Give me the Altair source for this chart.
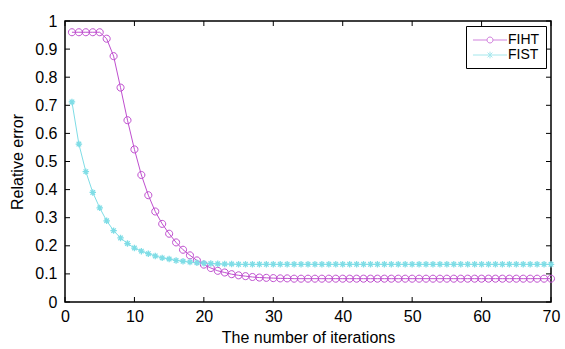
import altair as alt
import pandas as pd

iterations = list(range(1, 71))

fiht = [0.960, 0.960, 0.960, 0.960, 0.960, 0.937, 0.875, 0.763, 0.647, 0.543,
        0.452, 0.380, 0.322, 0.278, 0.243, 0.212, 0.186, 0.166, 0.148, 0.133,
        0.121, 0.111, 0.105, 0.099, 0.095, 0.092, 0.089, 0.087, 0.086, 0.085,
        0.084, 0.084, 0.083, 0.083, 0.083, 0.083, 0.083, 0.083, 0.083, 0.083,
        0.083, 0.083, 0.083, 0.083, 0.083, 0.083, 0.083, 0.083, 0.083, 0.083,
        0.083, 0.083, 0.083, 0.083, 0.083, 0.083, 0.083, 0.083, 0.083, 0.083,
        0.083, 0.083, 0.083, 0.083, 0.083, 0.083, 0.083, 0.083, 0.083, 0.083]

fist = [0.712, 0.562, 0.464, 0.390, 0.335, 0.289, 0.254, 0.228, 0.208, 0.192,
        0.181, 0.172, 0.164, 0.157, 0.153, 0.148, 0.145, 0.142, 0.140, 0.138,
        0.137, 0.136, 0.135, 0.135, 0.134, 0.134, 0.134, 0.134, 0.134, 0.134,
        0.134, 0.134, 0.134, 0.134, 0.134, 0.134, 0.134, 0.134, 0.134, 0.134,
        0.134, 0.134, 0.134, 0.134, 0.134, 0.134, 0.134, 0.134, 0.134, 0.134,
        0.134, 0.134, 0.134, 0.134, 0.134, 0.134, 0.134, 0.134, 0.134, 0.134,
        0.134, 0.134, 0.134, 0.134, 0.134, 0.134, 0.134, 0.134, 0.134, 0.134]

series_names = ["FIHT", "FIST"]
series_colors = ["#bf4fcf", "#7fdde6"]

x_ticks = [0, 10, 20, 30, 40, 50, 60, 70]
y_ticks = [0, 0.1, 0.2, 0.3, 0.4, 0.5, 0.6, 0.7, 0.8, 0.9, 1]

W, H = 486, 281
FONT = "Liberation Sans"

circle_path = "M1,0A1,1,0,1,1,-1,0A1,1,0,1,1,1,0Z"
star_path = ("M-1,0L1,0M0,-1L0,1M-0.7,-0.7L0.7,0.7M-0.7,0.7L0.7,-0.7")
legend_circle = ("M-2.27,0L-0.4,0M0.4,0L2.27,0"
                 "M0.4,0A0.4,0.4,0,1,1,-0.4,0A0.4,0.4,0,1,1,0.4,0")
legend_star = ("M-2.27,0L2.27,0M0,-0.45L0,0.45M-0.32,-0.32L0.32,0.32"
               "M-0.32,0.32L0.32,-0.32")

df_fiht = pd.DataFrame({"x": iterations, "y": fiht})
df_fist = pd.DataFrame({"x": iterations, "y": fist})
df_leg = pd.DataFrame({"series": series_names})
df_xt = pd.DataFrame({"x": x_ticks})
df_yt = pd.DataFrame({"y": y_ticks})

xscale = alt.Scale(domain=[0, 70], nice=False, zero=False)
yscale = alt.Scale(domain=[0, 1], nice=False)

xaxis = alt.Axis(values=x_ticks, title="The number of iterations", grid=False,
                 ticks=False, tickSize=0, domain=False, labelFont=FONT,
                 labelFontSize=16, labelColor="black", labelPadding=6,
                 labelFlush=False, titleFont=FONT, titleFontSize=16,
                 titleFontWeight="normal", titleColor="black", titlePadding=5,
                 format="d")
yaxis = alt.Axis(values=y_ticks, title="Relative error", grid=False,
                 ticks=False, tickSize=0, domain=False, labelFont=FONT,
                 labelFontSize=16, labelColor="black", labelPadding=8,
                 labelFlush=False, titleFont=FONT, titleFontSize=16,
                 titleFontWeight="normal", titleColor="black", titlePadding=9,
                 format="~g")


def X():
    return alt.X("x:Q", scale=xscale, axis=xaxis)


def Y():
    return alt.Y("y:Q", scale=yscale, axis=yaxis)


line_fiht = alt.Chart(df_fiht).mark_line(color=series_colors[0], strokeWidth=1).encode(x=X(), y=Y())
pts_fiht = alt.Chart(df_fiht).mark_point(shape=circle_path, size=50, filled=False,
                                         color=series_colors[0], strokeWidth=1,
                                         opacity=1).encode(x=X(), y=Y())
line_fist = alt.Chart(df_fist).mark_line(color=series_colors[1], strokeWidth=1).encode(x=X(), y=Y())
pts_fist = alt.Chart(df_fist).mark_point(shape=star_path, size=42, filled=False,
                                         color=series_colors[1], strokeWidth=1.3,
                                         opacity=1).encode(x=X(), y=Y())

xt_bottom = alt.Chart(df_xt).mark_rule(color="black", strokeWidth=1).encode(
    x=X(), y=alt.value(H), y2=alt.value(H - 5))
xt_top = alt.Chart(df_xt).mark_rule(color="black", strokeWidth=1).encode(
    x=X(), y=alt.value(0), y2=alt.value(5))
yt_left = alt.Chart(df_yt).mark_rule(color="black", strokeWidth=1).encode(
    y=Y(), x=alt.value(0), x2=alt.value(5))
yt_right = alt.Chart(df_yt).mark_rule(color="black", strokeWidth=1).encode(
    y=Y(), x=alt.value(W - 5), x2=alt.value(W))

legend_layer = alt.Chart(df_leg).transform_filter(
    alt.datum.series == "none"
).mark_point(filled=False).encode(
    color=alt.Color("series:N", scale=alt.Scale(domain=series_names, range=series_colors),
                    legend=alt.Legend(title=None)),
    shape=alt.Shape("series:N", scale=alt.Scale(domain=series_names,
                                                range=[legend_circle, legend_star]),
                    legend=alt.Legend(title=None)),
)

chart = alt.layer(
    line_fiht, pts_fiht, line_fist, pts_fist,
    xt_bottom, xt_top, yt_left, yt_right, legend_layer
).properties(
    width=W, height=H,
    padding={"left": 65, "top": 21, "right": 14, "bottom": 47},
    autosize=alt.AutoSizeParams(type="none"),
    background="white",
).configure_view(
    stroke="black", strokeWidth=1.5
).configure_legend(
    orient="top-right", offset=5, padding=6, strokeColor="black",
    fillColor="white", labelFont=FONT, labelFontSize=14, labelColor="black",
    symbolSize=225, symbolStrokeWidth=1, symbolOffset=10, labelOffset=10,
    rowPadding=0, symbolFillColor="transparent", cornerRadius=0,
)

chart.save("out.html", embed_options={"renderer": "svg", "actions": False})
